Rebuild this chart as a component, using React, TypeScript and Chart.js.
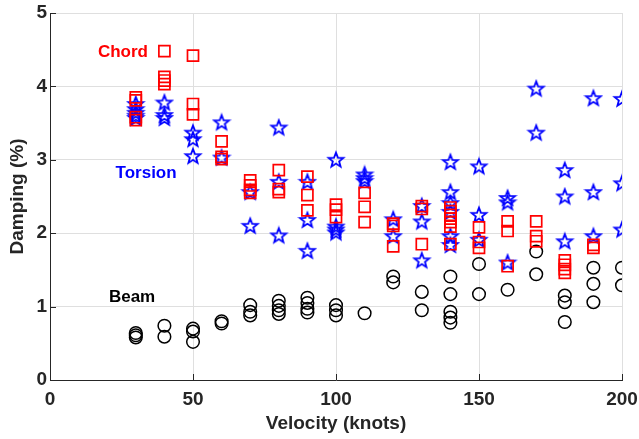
import React, { useEffect, useRef } from 'react';
import { Chart, registerables } from 'chart.js';

Chart.register(...registerables);

// ---- Data ----
const beamVelocity = [
  30, 30, 30, 40, 40, 50, 50, 50, 60, 60, 70, 70, 70, 80, 80, 80, 80, 90, 90, 90, 90,
  100, 100, 100, 110, 120, 120, 130, 130, 140, 140, 140, 140, 140, 150, 150, 160,
  170, 170, 180, 180, 180, 190, 190, 190, 200, 200,
];
const beamDamping = [
  0.64, 0.61, 0.58, 0.74, 0.59, 0.70, 0.66, 0.52, 0.80, 0.77, 1.02, 0.93, 0.88,
  1.08, 1.01, 0.95, 0.90, 1.12, 1.05, 0.97, 0.92, 1.02, 0.95, 0.88, 0.91, 1.41, 1.33,
  1.20, 0.95, 1.41, 1.17, 0.93, 0.85, 0.78, 1.58, 1.17, 1.23, 1.75, 1.44, 1.15, 1.06,
  0.79, 1.53, 1.31, 1.06, 1.53, 1.29,
];

const chordVelocity = [
  30, 30, 30, 30, 40, 40, 40, 40, 50, 50, 50, 60, 60, 60, 70, 70, 70, 70, 80, 80, 80,
  90, 90, 90, 100, 100, 100, 110, 110, 110, 120, 120, 120, 130, 130, 130,
  140, 140, 140, 140, 140, 140, 140, 150, 150, 150, 160, 160, 160, 170, 170, 170,
  180, 180, 180, 180, 190, 190,
];
const chordDamping = [
  3.85, 3.81, 3.58, 3.54, 4.48, 4.13, 4.08, 4.03, 4.42, 3.76, 3.62, 3.25, 3.04, 3.01,
  2.72, 2.65, 2.59, 2.55, 2.86, 2.60, 2.56, 2.77, 2.52, 2.31, 2.39, 2.32, 2.22,
  2.55, 2.36, 2.15, 2.13, 2.10, 1.82, 2.37, 2.33, 1.85,
  2.35, 2.30, 2.25, 2.20, 2.15, 2.09, 1.85, 2.08, 1.88, 1.80, 2.16, 2.03, 1.55,
  2.16, 1.96, 1.89, 1.63, 1.57, 1.51, 1.46, 1.84, 1.80,
];

const torsionVelocity = [
  30, 30, 30, 30, 30, 40, 40, 40, 50, 50, 50, 60, 60, 70, 70, 80, 80, 80, 90, 90, 90,
  100, 100, 100, 100, 110, 110, 110, 120, 120, 130, 130, 130,
  140, 140, 140, 140, 140, 140, 150, 150, 150, 160, 160, 160, 170, 170,
  180, 180, 180, 190, 190, 190, 200, 200, 200,
];
const torsionDamping = [
  3.76, 3.69, 3.64, 3.60, 3.57, 3.78, 3.61, 3.57, 3.37, 3.28, 3.05, 3.51, 3.03,
  2.56, 2.10, 3.44, 2.70, 1.97, 2.70, 2.18, 1.76, 3.00, 2.09, 2.05, 2.01,
  2.80, 2.75, 2.71, 2.19, 1.96, 2.37, 2.16, 1.63,
  2.97, 2.56, 2.41, 2.29, 1.96, 1.84, 2.91, 2.25, 1.91, 2.48, 2.42, 1.60, 3.97, 3.37,
  2.86, 2.50, 1.89, 3.84, 2.56, 1.96, 3.83, 2.68, 2.05,
];

const xTicks = [0, 50, 100, 150, 200];
const yTicks = [0, 1, 2, 3, 4, 5];

const seriesLabels = ['Chord', 'Torsion', 'Beam'];
const labelX = [25.5, 33.6, 28.7];
const labelY = [4.46, 2.82, 1.12];
const labelColors = ['#ff0000', '#0000ff', '#000000'];

const pts = (xs: number[], ys: number[]) => xs.map((x, i) => ({ x, y: ys[i] }));

function makeStar(): HTMLCanvasElement {
  const size = 20;
  const c = document.createElement('canvas');
  c.width = size;
  c.height = size;
  const g = c.getContext('2d')!;
  const R = 7.8;
  const r = 3.3;
  const cx = size / 2;
  const cy = size / 2 + 0.5;
  g.beginPath();
  for (let i = 0; i < 10; i++) {
    const rad = i % 2 === 0 ? R : r;
    const a = -Math.PI / 2 + (i * Math.PI) / 5;
    const px = cx + rad * Math.cos(a);
    const py = cy + rad * Math.sin(a);
    if (i === 0) g.moveTo(px, py);
    else g.lineTo(px, py);
  }
  g.closePath();
  g.strokeStyle = '#0000ff';
  g.lineWidth = 1.8;
  g.lineJoin = 'miter';
  g.stroke();
  return c;
}

const FONT = '"Liberation Sans", Arial, Helvetica, sans-serif';

const overlayPlugin = {
  id: 'overlay',
  beforeDatasetsDraw(chart: any) {
    const { ctx, chartArea, scales } = chart;
    ctx.save();
    ctx.strokeStyle = '#262626';
    ctx.lineWidth = 1;
    xTicks.forEach((v) => {
      const px = Math.round(scales.x.getPixelForValue(v)) + 0.5;
      ctx.beginPath();
      ctx.moveTo(px, chartArea.bottom);
      ctx.lineTo(px, chartArea.bottom - 6);
      ctx.stroke();
    });
    yTicks.forEach((v) => {
      const py = Math.round(scales.y.getPixelForValue(v)) + 0.5;
      ctx.beginPath();
      ctx.moveTo(chartArea.left, py);
      ctx.lineTo(chartArea.left + 6, py);
      ctx.stroke();
    });
    ctx.restore();
  },
  afterDatasetsDraw(chart: any) {
    const { ctx, scales } = chart;
    ctx.save();
    ctx.font = `bold 17px ${FONT}`;
    ctx.textAlign = 'center';
    ctx.textBaseline = 'middle';
    seriesLabels.forEach((t, i) => {
      ctx.fillStyle = labelColors[i];
      ctx.fillText(t, scales.x.getPixelForValue(labelX[i]), scales.y.getPixelForValue(labelY[i]));
    });
    ctx.restore();
  },
};

export default function App() {
  const ref = useRef<HTMLCanvasElement | null>(null);

  useEffect(() => {
    if (!ref.current) return;
    const star = makeStar();
    const chart = new Chart(ref.current, {
      type: 'scatter',
      data: {
        datasets: [
          {
            label: 'Chord',
            data: pts(chordVelocity, chordDamping),
            pointStyle: 'rect',
            pointRadius: 7.8,
            borderColor: '#ff0000',
            backgroundColor: 'rgba(0,0,0,0)',
            borderWidth: 1.7,
          },
          {
            label: 'Torsion',
            data: pts(torsionVelocity, torsionDamping),
            pointStyle: star as any,
            pointRadius: 9,
            borderColor: '#0000ff',
            backgroundColor: 'rgba(0,0,0,0)',
          },
          {
            label: 'Beam',
            data: pts(beamVelocity, beamDamping),
            pointStyle: 'circle',
            pointRadius: 6.3,
            borderColor: '#000000',
            backgroundColor: 'rgba(0,0,0,0)',
            borderWidth: 1.5,
          },
        ],
      },
      options: {
        animation: false,
        responsive: false,
        layout: { padding: { top: 13, right: 17, left: 0, bottom: 0 } },
        plugins: { legend: { display: false }, tooltip: { enabled: false } },
        scales: {
          x: {
            type: 'linear',
            min: 0,
            max: 200,
            afterBuildTicks: (s: any) => {
              s.ticks = xTicks.map((v) => ({ value: v }));
            },
            afterFit: (s: any) => {
              s.height = 59;
              s.paddingLeft = 0;
              s.paddingRight = 0;
            },
            ticks: {
              color: '#262626',
              font: { family: FONT, size: 19, weight: 'bold' },
              padding: 8,
              maxRotation: 0,
            },
            grid: { color: '#dfdfdf', drawTicks: false },
            border: { color: '#262626', width: 1 },
            title: {
              display: true,
              text: 'Velocity (knots)',
              color: '#262626',
              font: { family: FONT, size: 19, weight: 'bold' },
              padding: { top: 0, bottom: 4 },
            },
          },
          y: {
            type: 'linear',
            min: 0,
            max: 5,
            afterBuildTicks: (s: any) => {
              s.ticks = yTicks.map((v) => ({ value: v }));
            },
            afterFit: (s: any) => {
              s.width = 50;
              s.paddingTop = 0;
              s.paddingBottom = 0;
            },
            ticks: {
              color: '#262626',
              font: { family: FONT, size: 19, weight: 'bold' },
              padding: 3,
            },
            grid: { color: '#dfdfdf', drawTicks: false },
            border: { color: '#262626', width: 1 },
            title: {
              display: true,
              text: 'Damping (%)',
              color: '#262626',
              font: { family: FONT, size: 19, weight: 'bold' },
              padding: { top: 6, bottom: 0 },
            },
          },
        },
      },
      plugins: [overlayPlugin],
    });
    return () => chart.destroy();
  }, []);

  return (
    <div style={{ position: 'absolute', left: 0, top: 0, width: 639, height: 439, background: '#fff' }}>
      <canvas ref={ref} width={639} height={439} style={{ display: 'block' }} />
    </div>
  );
}
